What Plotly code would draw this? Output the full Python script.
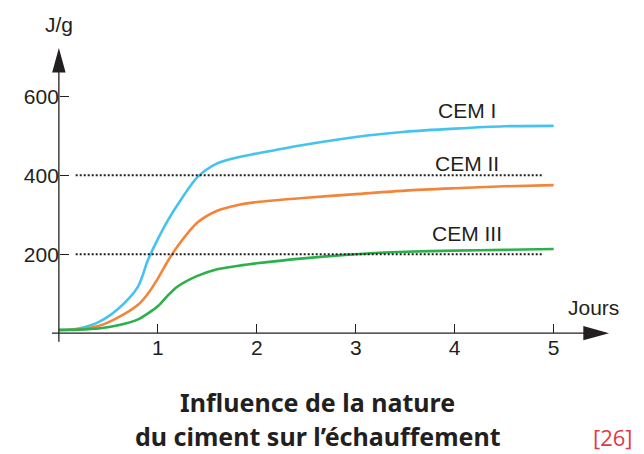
import plotly.graph_objects as go

# time in days
jours = [0, 0.2, 0.4, 0.6, 0.8, 0.9, 1.0, 1.1, 1.2, 1.4, 1.6, 1.8, 2.0, 2.5, 3.0, 3.5, 4.0, 4.5, 5.0]

# heat released (J/g) for each cement type
cem_1 = [8, 12, 28, 62, 118, 185, 238, 285, 325, 395, 430, 445, 455, 478, 497, 510, 518, 524, 525]
cem_2 = [8, 10, 18, 40, 72, 100, 138, 182, 220, 280, 310, 324, 332, 343, 352, 361, 367, 372, 375]
cem_3 = [8, 9, 12, 20, 35, 50, 68, 95, 118, 145, 162, 170, 177, 190, 200, 206, 209, 211, 213]

series_names = ["CEM I", "CEM II", "CEM III"]
series_colors = ["#45C3EF", "#F2853A", "#2BB04A"]
label_y = [565, 430, 253]
ref_levels = [200, 400]

y_ticks = [200, 400, 600]
x_ticks = [1, 2, 3, 4, 5]

caption_lines = ["Influence de la nature", "du ciment sur l’échauffement"]

INK = "#231F20"
FONT = "Liberation Sans, Arial"

X_RANGE = [-0.12, 5.62]
Y_RANGE = [-30, 745]

fig = go.Figure()

for name, values, color in zip(series_names, [cem_1, cem_2, cem_3], series_colors):
    fig.add_trace(go.Scatter(
        x=jours,
        y=values,
        mode="lines",
        name=name,
        line=dict(color=color, width=2.6, shape="spline", smoothing=0.8)
    ))

# dotted reference lines
for level in ref_levels:
    fig.add_shape(type="line", x0=0.17, x1=4.9, y0=level, y1=level,
                  line=dict(color=INK, width=2, dash="2px,2px"))

# axes drawn by hand so they end in arrows
fig.add_shape(type="line", x0=0, x1=0, y0=-22, y1=680, line=dict(color=INK, width=1.3))
fig.add_shape(type="line", x0=-0.07, x1=5.4, y0=0, y1=0, line=dict(color=INK, width=1.3))
fig.add_shape(type="path", path="M -0.068 660 L 0 722 L 0.068 660 Z",
              fillcolor=INK, line=dict(width=0))
fig.add_shape(type="path", path="M 5.30 -18 L 5.56 0 L 5.30 18 Z",
              fillcolor=INK, line=dict(width=0))

# curve labels
for name, y in zip(series_names, label_y):
    fig.add_annotation(x=4.12, y=y, text=name, showarrow=False,
                       font=dict(family=FONT, size=21, color=INK))

# axis titles
fig.add_annotation(text="J/g", x=0, xref="x", y=1.046, yref="paper", yanchor="middle",
                   showarrow=False, font=dict(family=FONT, size=21, color=INK))
fig.add_annotation(text="Jours", x=5.4, y=66, showarrow=False,
                   font=dict(family=FONT, size=21, color=INK))

# caption, one annotation per line so the lower one sits on the bottom edge
fig.add_annotation(text="<b>" + caption_lines[0] + "</b>",
                   xref="paper", yref="paper", x=0.477, y=-0.186, yanchor="middle",
                   showarrow=False, borderpad=0,
                   font=dict(family="Noto Sans", size=25, color=INK))
fig.add_annotation(text="<b>" + caption_lines[1] + "</b>",
                   xref="paper", yref="paper", x=0.477, y=-0.356, yanchor="bottom",
                   showarrow=False, borderpad=0,
                   font=dict(family="Noto Sans", size=25, color=INK))
fig.add_annotation(text="[26]", xref="paper", yref="paper", x=0.996, y=-0.30,
                   xanchor="center", yanchor="middle", showarrow=False,
                   font=dict(family="Open Sans", size=22, color="#E03A48"))

# the page body adds an 8px margin, so the figure is 8px smaller than the window
fig.update_layout(
    width=636,
    height=446,
    margin=dict(l=39, r=29, t=31, b=109),
    template="plotly_white",
    showlegend=False,
    plot_bgcolor="white",
    paper_bgcolor="white",
    xaxis=dict(range=X_RANGE, tickvals=x_ticks, ticks="inside", ticklen=9, tickwidth=1.3,
               tickcolor=INK, showgrid=False, zeroline=False, showline=False,
               anchor="free", position=30 / 775,
               tickfont=dict(family=FONT, size=21, color=INK)),
    yaxis=dict(range=Y_RANGE, tickvals=y_ticks, ticks="inside", ticklen=9, tickwidth=1.3,
               tickcolor=INK, showgrid=False, zeroline=False, showline=False,
               anchor="free", position=0.12 / 5.74,
               tickfont=dict(family=FONT, size=21, color=INK))
)

fig.write_html("out.html")
